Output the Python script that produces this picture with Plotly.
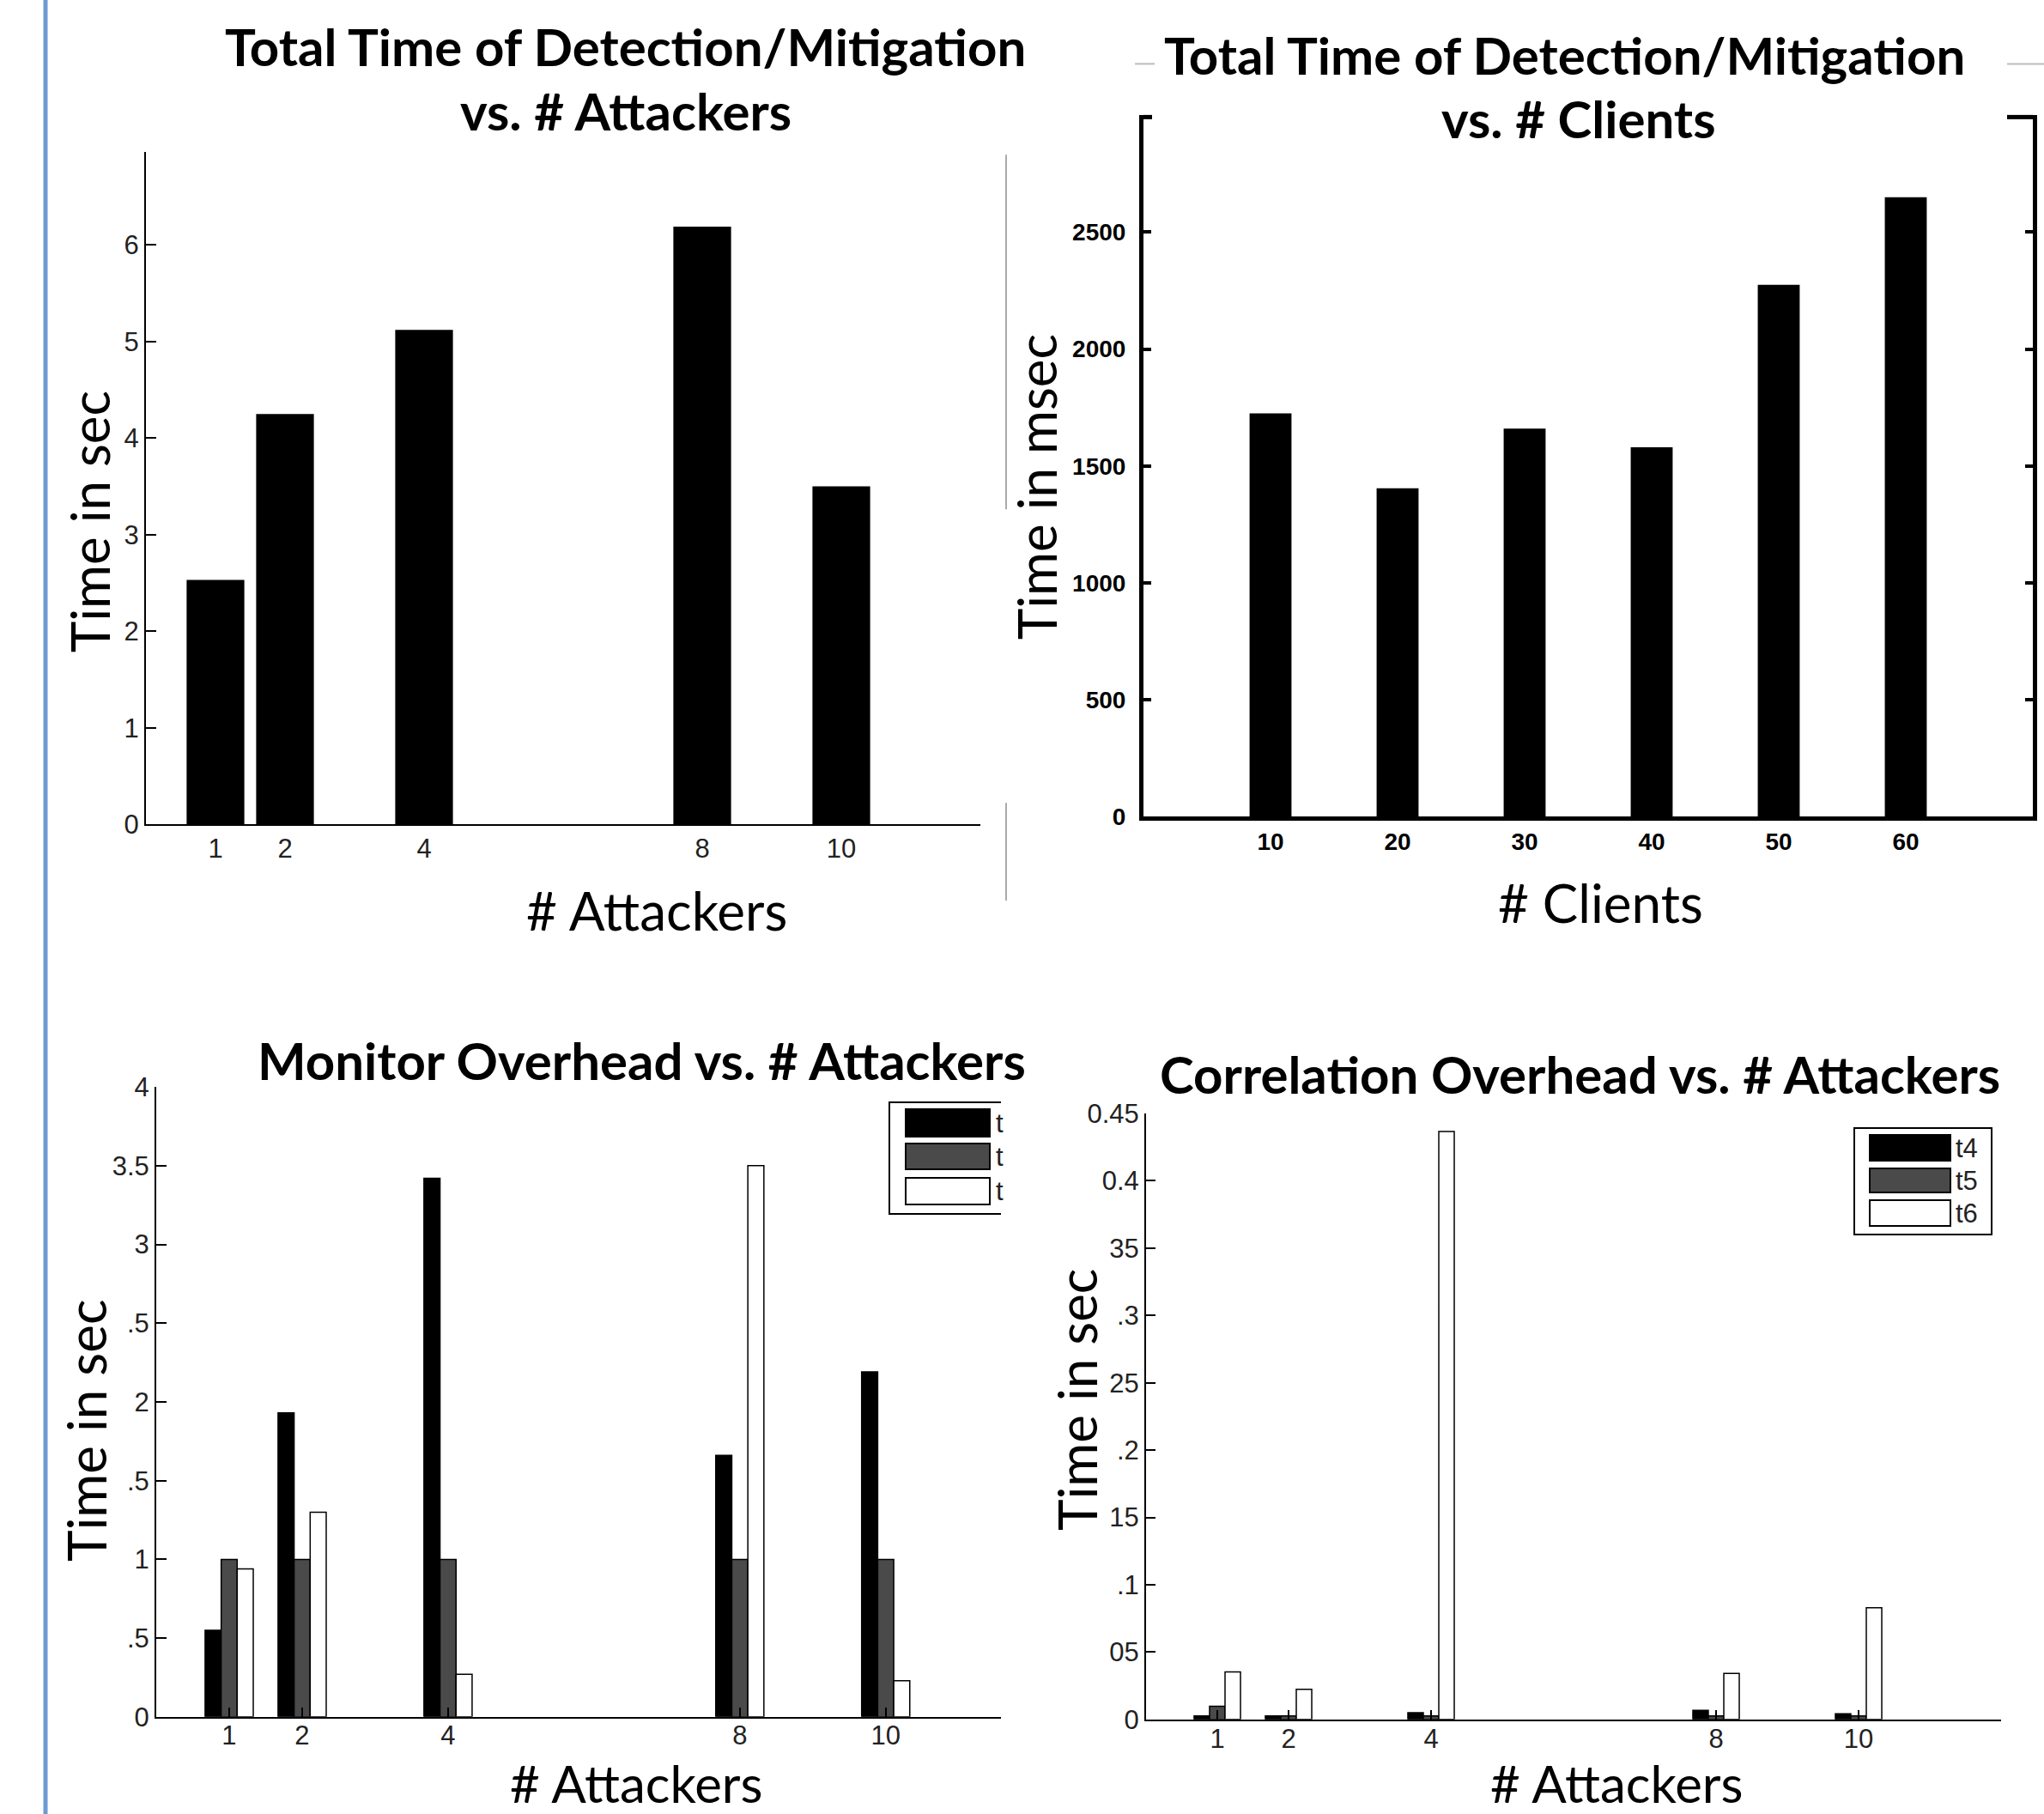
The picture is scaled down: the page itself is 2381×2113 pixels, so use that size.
import plotly.graph_objects as go

W, H = 2381, 2113

# ---------------- data ----------------
attackers = [1, 2, 4, 8, 10]
attacker_labels = ["1", "2", "4", "8", "10"]
total_time_sec = [2.53, 4.25, 5.12, 6.19, 3.50]

clients = [10, 20, 30, 40, 50, 60]
client_labels = ["10", "20", "30", "40", "50", "60"]
total_time_msec = [1725, 1405, 1660, 1580, 2275, 2650]

monitor_t1 = [0.55, 1.93, 3.42, 1.66, 2.19]
monitor_t2 = [1.00, 1.00, 1.00, 1.00, 1.00]
monitor_t3 = [0.94, 1.30, 0.27, 3.50, 0.23]

corr_t4 = [0.0027, 0.0027, 0.0050, 0.0067, 0.0043]
corr_t5 = [0.0098, 0.0027, 0.0027, 0.0027, 0.0027]
corr_t6 = [0.0353, 0.0224, 0.4366, 0.0342, 0.0829]

tl_yticks = [0, 1, 2, 3, 4, 5, 6]
tr_yticks = [0, 500, 1000, 1500, 2000, 2500]
bl_yticks = [0, 0.5, 1, 1.5, 2, 2.5, 3, 3.5, 4]
bl_yticktext = ["0", ".5", "1", ".5", "2", ".5", "3", "3.5", "4"]
br_yticks = [0, 0.05, 0.1, 0.15, 0.2, 0.25, 0.3, 0.35, 0.4, 0.45]
br_yticktext = ["0", "05", ".1", "15", ".2", "25", ".3", "35", "0.4", "0.45"]

# ---------------- helpers ----------------
# vertical calibration of the captured page (observed offset / scale)
VA, VB = 15.6, 0.9837

def px(x):
    return x / W

def py(y):
    return 1 - ((y - VA) / VB) / H

TICKFONT = dict(family="Liberation Sans Narrow, Liberation Sans, Arial, sans-serif", size=31, color="#222")
TR_TICKFONT = dict(family="Liberation Sans Narrow, Liberation Sans, Arial", size=28, color="black", weight="bold")
TITLEFONT = dict(family="Lato, Open Sans, sans-serif", size=60, color="black", weight="bold")
AXTITLEFONT = dict(family="Lato, Open Sans, sans-serif", size=62, color="black")
AXTITLEFONT_B = dict(family="Lato, Open Sans, sans-serif", size=60, color="black")

fig = go.Figure()

# top-left
fig.add_trace(go.Bar(x=attackers, y=total_time_sec, width=0.83, marker=dict(color="black", line=dict(width=0)),
                     xaxis="x", yaxis="y", showlegend=False, name="Total time"))
# top-right
fig.add_trace(go.Bar(x=clients, y=total_time_msec, width=3.3, marker=dict(color="black", line=dict(width=0)),
                     xaxis="x2", yaxis="y2", showlegend=False, name="Total time"))
# bottom-left
bw = 0.22
for vals, name, col, off in [(monitor_t1, "t1", "black", -1.5 * bw),
                             (monitor_t2, "t2", "#4a4a4a", -0.5 * bw),
                             (monitor_t3, "t3", "white", 0.5 * bw)]:
    fig.add_trace(go.Bar(x=attackers, y=vals, width=bw, offset=off,
                         marker=dict(color=col, line=dict(color="black", width=1.5)),
                         xaxis="x3", yaxis="y3", showlegend=False, name=name))
# bottom-right
bw2 = 0.217
for vals, name, col, off in [(corr_t4, "t4", "black", -1.5 * bw2),
                             (corr_t5, "t5", "#4a4a4a", -0.5 * bw2),
                             (corr_t6, "t6", "white", 0.5 * bw2)]:
    fig.add_trace(go.Bar(x=attackers, y=vals, width=bw2, offset=off,
                         marker=dict(color=col, line=dict(color="black", width=1.5)),
                         xaxis="x4", yaxis="y4", showlegend=False, name=name))

common_x = dict(showgrid=False, zeroline=False, showline=True, linecolor="black", tickfont=TICKFONT,
                layer="above traces", ticks="inside", tickcolor="black")
common_y = dict(showgrid=False, zeroline=False, showline=True, linecolor="black", tickfont=TICKFONT,
                ticks="inside", tickcolor="black")

fig.update_layout(
    width=W, height=H, autosize=False,
    margin=dict(l=0, r=0, t=0, b=0, pad=0),
    paper_bgcolor="white", plot_bgcolor="white",
    barmode="overlay", showlegend=False,
    xaxis=dict(common_x, domain=[px(170), px(1142)], range=[0, 12], tickvals=attackers, ticktext=attacker_labels,
               linewidth=2, ticklen=10, tickwidth=2, anchor="y"),
    yaxis=dict(common_y, domain=[py(959), py(176)], range=[0, 6.96], tickvals=tl_yticks,
               linewidth=2, ticklen=12, tickwidth=2, anchor="x"),
    xaxis2=dict(common_x, domain=[px(1332), px(2368)], range=[0, 70], tickvals=clients, ticktext=client_labels,
                linewidth=5, ticks="", anchor="y2", tickfont=TR_TICKFONT),
    yaxis2=dict(common_y, domain=[py(950), py(133)], range=[0, 3000], tickvals=tr_yticks,
                linewidth=5, ticklen=9, tickwidth=4, mirror="ticks", anchor="x2",
                tickfont=TR_TICKFONT, ticklabelstandoff=10),
    xaxis3=dict(common_x, domain=[px(182), px(1166)], range=[0, 11.58], tickvals=attackers, ticktext=attacker_labels,
                linewidth=2, ticklen=11, tickwidth=2, anchor="y3", ticklabelstandoff=-7),
    yaxis3=dict(common_y, domain=[py(1999), py(1265)], range=[0, 4], tickvals=bl_yticks, ticktext=bl_yticktext,
                linewidth=2, ticklen=12, tickwidth=2, anchor="x3"),
    xaxis4=dict(common_x, domain=[px(1335), px(2331)], range=[0, 12], tickvals=attackers, ticktext=attacker_labels,
                linewidth=2, ticklen=11, tickwidth=2, anchor="y4", ticklabelstandoff=-6),
    yaxis4=dict(common_y, domain=[py(2002), py(1296)], range=[0, 0.45], tickvals=br_yticks, ticktext=br_yticktext,
                linewidth=2, ticklen=11, tickwidth=2, anchor="x4"),
)

shapes = []
def line(x0, y0, x1, y1, color, width):
    shapes.append(dict(type="line", xref="paper", yref="paper", x0=px(x0), y0=py(y0), x1=px(x1), y1=py(y1),
                       line=dict(color=color, width=width), layer="above"))
def rect(x0, y0, x1, y1, fill, lc="black", lw=2):
    shapes.append(dict(type="rect", xref="paper", yref="paper", x0=px(x0), y0=py(y0), x1=px(x1), y1=py(y1),
                       fillcolor=fill, line=dict(color=lc, width=lw), layer="above"))

# page decorations
line(53, -40, 53, H + 40, "#6c9bd1", 5)
line(1172, 179, 1172, 592, "#aaaaaa", 2)
line(1172, 934, 1172, 1048, "#aaaaaa", 2)
line(1332, 135, 1342, 135, "black", 5)
line(2338, 135, 2368, 135, "black", 5)
line(1322, 73, 1345, 73, "#bbbbbb", 2)
line(2338, 73, 2381, 73, "#bbbbbb", 2)

# bottom-left legend (cropped at right edge)
shapes.append(dict(type="path", xref="paper", yref="paper",
                   path=f"M {px(1166)},{py(1283)} L {px(1036)},{py(1283)} L {px(1036)},{py(1413)} L {px(1166)},{py(1413)}",
                   line=dict(color="black", width=2), layer="above"))
rect(1055, 1291, 1153, 1323, "black")
rect(1055, 1331, 1153, 1361, "#4a4a4a")
rect(1055, 1371, 1153, 1402, "white")

# bottom-right legend
rect(2160, 1313, 2320, 1437, "white", lw=2)
rect(2178, 1321, 2272, 1351, "black")
rect(2178, 1360, 2272, 1388, "#4a4a4a")
rect(2178, 1397, 2272, 1427, "white")

fig.update_layout(shapes=shapes)

ann = []
def text(x, y, s, font, angle=0, xanchor="center"):
    ann.append(dict(xref="paper", yref="paper", x=px(x), y=py(y), text=s, showarrow=False, font=font,
                    textangle=angle, xanchor=xanchor, yanchor="middle"))

text(729, 53, "Total Time of Detection/Mitigation", TITLEFONT)
text(729, 128, "vs. # Attackers", TITLEFONT)
text(1822, 63, "Total Time of Detection/Mitigation", TITLEFONT)
text(1839, 137, "vs. # Clients", TITLEFONT)
text(747, 1234, "Monitor Overhead vs. # Attackers", TITLEFONT)
text(1840, 1250, "Correlation Overhead vs. # Attackers", TITLEFONT)

text(104, 607, "Time in sec", AXTITLEFONT, angle=-90)
text(1207, 566, "Time in msec", AXTITLEFONT, angle=-90)
text(100, 1666, "Time in sec", AXTITLEFONT, angle=-90)
text(1254, 1630, "Time in sec", AXTITLEFONT, angle=-90)

text(765, 1059, "# Attackers", AXTITLEFONT)
text(1865, 1050, "# Clients", AXTITLEFONT)
text(741, 2076, "# Attackers", AXTITLEFONT_B)
text(1883, 2076, "# Attackers", AXTITLEFONT_B)

LEGFONT = dict(family="Liberation Sans Narrow, Liberation Sans, Arial", size=31, color="#222")
for lab, yc in [("t", 1307), ("t", 1346), ("t", 1386)]:
    text(1158, yc, lab, LEGFONT, xanchor="left")
for lab, yc in [("t4", 1336), ("t5", 1374), ("t6", 1412)]:
    text(2276, yc, lab, LEGFONT, xanchor="left")

fig.update_layout(annotations=ann)

fig.write_html(
    "out.html",
    config={"displayModeBar": False},
    post_script="document.documentElement.style.margin='0';document.documentElement.style.overflow='hidden';"
                "document.body.style.margin='0';document.body.style.overflow='hidden';",
)
